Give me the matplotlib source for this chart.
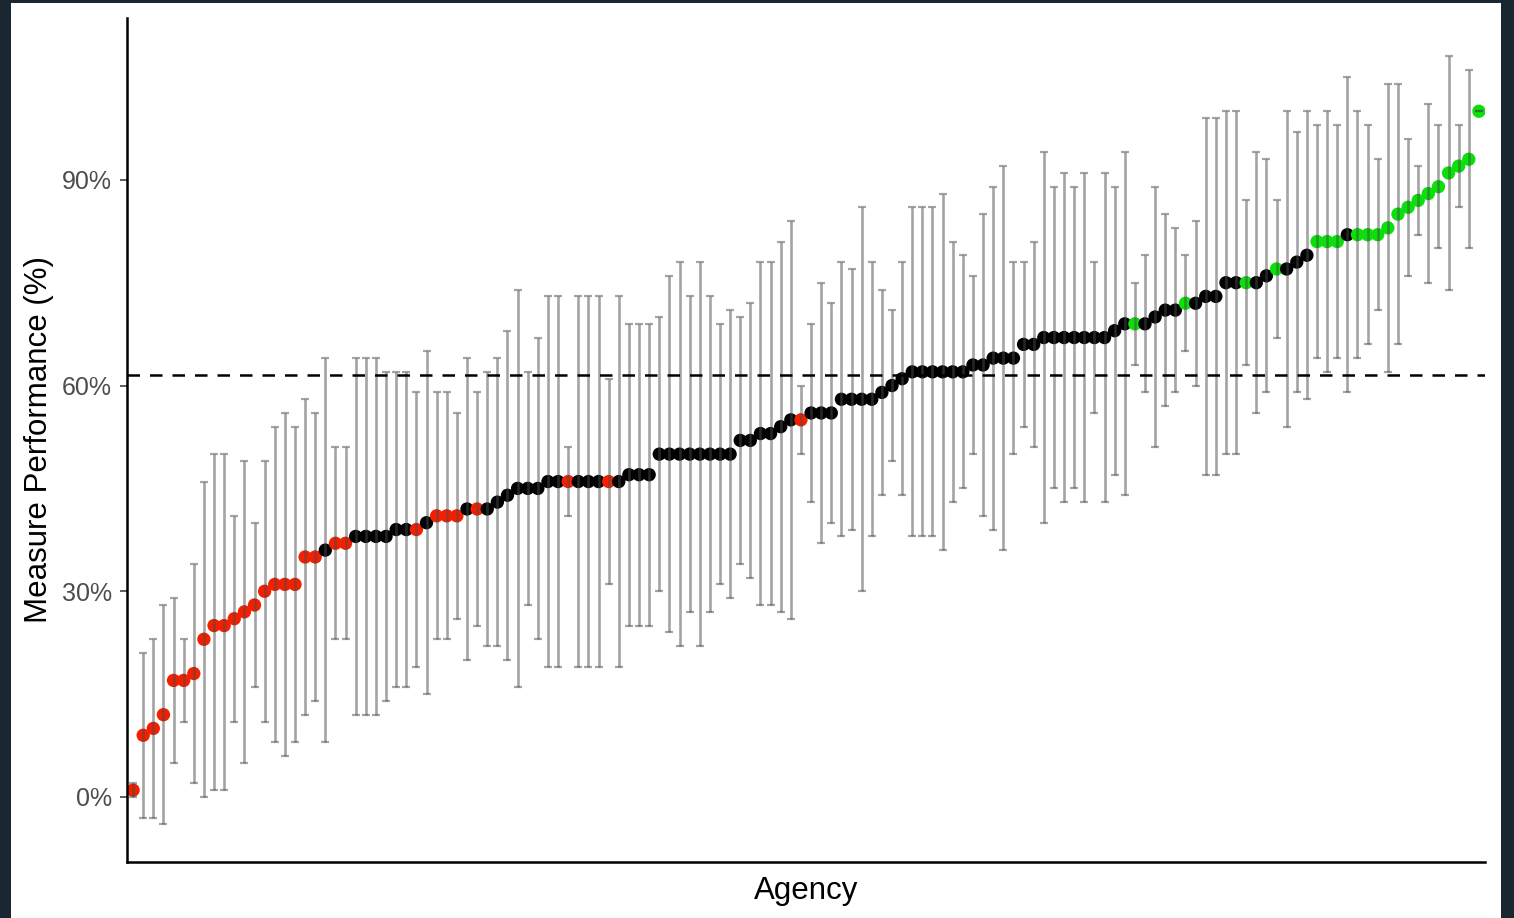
import matplotlib
matplotlib.use("Agg")
import matplotlib.pyplot as plt
from matplotlib.patches import Rectangle

# measure performance per agency (%), sorted, with confidence interval
perf = [1, 9, 10, 12, 17, 17, 18, 23, 25, 25, 26, 27, 28, 30, 31, 31, 31, 35, 35, 36,
        37, 37, 38, 38, 38, 38, 39, 39, 39, 40, 41, 41, 41, 42, 42, 42, 43, 44, 45, 45,
        45, 46, 46, 46, 46, 46, 46, 46, 46, 47, 47, 47, 50, 50, 50, 50, 50, 50, 50, 50,
        52, 52, 53, 53, 54, 55, 55, 56, 56, 56, 58, 58, 58, 58, 59, 60, 61, 62, 62, 62,
        62, 62, 62, 63, 63, 64, 64, 64, 66, 66, 67, 67, 67, 67, 67, 67, 67, 68, 69, 69,
        69, 70, 71, 71, 72, 72, 73, 73, 75, 75, 75, 75, 76, 77, 77, 78, 79, 81, 81, 81,
        82, 82, 82, 82, 83, 85, 86, 87, 88, 89, 91, 92, 93, 100]
lower = [0, -3, -3, -4, 5, 11, 2, 0, 1, 1, 11, 5, 16, 11, 8, 6, 8, 12, 14, 8,
         23, 23, 12, 12, 12, 14, 16, 16, 19, 15, 23, 23, 26, 20, 25, 22, 22, 20, 16, 28,
         23, 19, 19, 41, 19, 19, 19, 31, 19, 25, 25, 25, 30, 24, 22, 27, 22, 27, 31, 29,
         34, 32, 28, 28, 27, 26, 50, 43, 37, 40, 38, 39, 30, 38, 44, 49, 44, 38, 38, 38,
         36, 43, 45, 50, 41, 39, 36, 50, 54, 51, 40, 45, 43, 45, 43, 56, 43, 47, 44, 63,
         59, 51, 57, 59, 65, 60, 47, 47, 50, 50, 63, 56, 59, 67, 54, 59, 58, 64, 62, 64,
         59, 64, 66, 71, 62, 66, 76, 82, 75, 80, 74, 86, 80, 100]
upper = [2, 21, 23, 28, 29, 23, 34, 46, 50, 50, 41, 49, 40, 49, 54, 56, 54, 58, 56, 64,
         51, 51, 64, 64, 64, 62, 62, 62, 59, 65, 59, 59, 56, 64, 59, 62, 64, 68, 74, 62,
         67, 73, 73, 51, 73, 73, 73, 61, 73, 69, 69, 69, 70, 76, 78, 73, 78, 73, 69, 71,
         70, 72, 78, 78, 81, 84, 60, 69, 75, 72, 78, 77, 86, 78, 74, 71, 78, 86, 86, 86,
         88, 81, 79, 76, 85, 89, 92, 78, 78, 81, 94, 89, 91, 89, 91, 78, 91, 89, 94, 75,
         79, 89, 85, 83, 79, 84, 99, 99, 100, 100, 87, 94, 93, 87, 100, 97, 100, 98, 100, 98,
         105, 100, 98, 93, 104, 104, 96, 92, 101, 98, 108, 98, 106, 100]
benchmark = 61.55

x = list(range(len(perf)))
colors = []
for p, lo, hi in zip(perf, lower, upper):
    if hi < benchmark:
        colors.append('#f22000')
    elif lo > benchmark:
        colors.append('#0be00b')
    else:
        colors.append('black')

plt.rcParams['font.family'] = ['Liberation Sans', 'DejaVu Sans']

fig = plt.figure(figsize=(15.14, 9.18), dpi=100, facecolor='#1b2730')

# white canvas inside the dark frame
bg = fig.add_axes([11 / 1514, 0, 1490 / 1514, 915 / 918], zorder=-1)
bg.set_axis_off()
bg.add_patch(Rectangle((0, 0), 1, 1, transform=bg.transAxes,
                       facecolor='white', edgecolor='none'))

ax = fig.add_axes([127 / 1514, 1 - 862 / 918, 1358 / 1514, 844 / 918])
ax.patch.set_alpha(0)

# points first, error bars drawn on top (semi-transparent)
ax.scatter(x, perf, s=92, c=colors, linewidths=0, zorder=2)
yerr = [[p - lo for p, lo in zip(perf, lower)], [hi - p for p, hi in zip(perf, upper)]]
ax.errorbar(x, perf, yerr=yerr, fmt='none', ecolor='#4a4a4a', alpha=0.5,
            elinewidth=1.9, capsize=3.0, capthick=1.6, zorder=3)

ax.axhline(benchmark, color='black', linewidth=1.8, dashes=(5, 4), zorder=4)

ax.set_xlim(-0.6, len(perf) - 0.4)
ax.set_ylim(-9.48, 113.6)
ax.set_yticks([0, 30, 60, 90])
ax.set_yticklabels(['0%', '30%', '60%', '90%'])
ax.set_xticks([])
ax.tick_params(axis='y', labelsize=18, labelcolor='#4d4d4d', color='#333333',
               length=5.3, width=1.1, pad=5.5)

for side in ['top', 'right']:
    ax.spines[side].set_visible(False)
for side in ['left', 'bottom']:
    ax.spines[side].set_linewidth(1.8)
    ax.spines[side].set_color('black')

ax.set_ylabel('Measure Performance (%)', fontsize=22.5, color='black')
ax.set_xlabel('Agency', fontsize=22.5, color='black')
ax.yaxis.set_label_coords(-0.054, 0.5)
ax.xaxis.set_label_coords(0.5, -0.017)

fig.savefig('out.png', dpi=100, facecolor=fig.get_facecolor())
